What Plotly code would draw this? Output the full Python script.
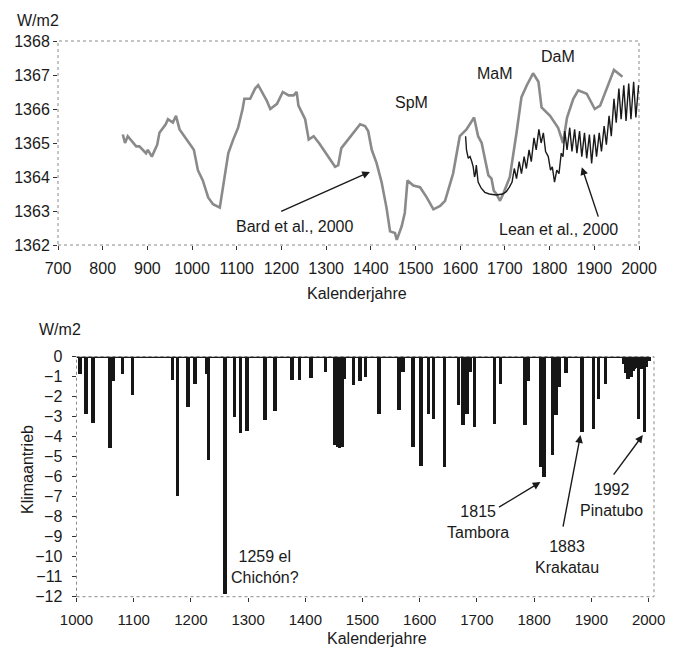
import plotly.graph_objects as go

# page body has an 8px margin, so the figure is offset by 8px in the photographed page
OFF = 8
W, H = 669, 640
FONT = "Liberation Sans, Arial, sans-serif"

# ---------------- Top chart data: solar irradiance (W/m2) ----------------
bard_years = [845, 850, 856, 866, 875, 882, 892, 897, 901, 910, 922, 927, 941, 946, 957, 964,
              972, 987, 1004, 1013, 1024, 1036, 1047, 1062, 1071, 1081, 1092, 1103, 1113, 1117,
              1130, 1141, 1148, 1160, 1167, 1175, 1190, 1203, 1216, 1227, 1234, 1238, 1253, 1261,
              1272, 1284, 1302, 1320, 1327, 1334, 1349, 1376, 1387, 1394, 1402, 1413, 1424, 1435,
              1443, 1454, 1458, 1469, 1476, 1482, 1495, 1510, 1525, 1540, 1555, 1566, 1584, 1599,
              1614, 1631, 1640, 1648, 1655, 1663, 1670, 1675, 1681, 1689, 1696, 1711, 1726, 1737,
              1749, 1763, 1775, 1782, 1801, 1819, 1830, 1839, 1853, 1864, 1883, 1901, 1913, 1927,
              1944, 1963]
bard_values = [1365.25, 1365.0, 1365.2, 1365.05, 1364.9, 1364.9, 1364.75, 1364.7, 1364.8, 1364.6,
               1364.95, 1365.3, 1365.55, 1365.7, 1365.6, 1365.8, 1365.4, 1365.1, 1364.8, 1364.2,
               1363.9, 1363.4, 1363.2, 1363.1, 1363.9, 1364.7, 1365.1, 1365.45, 1366.0, 1366.3,
               1366.3, 1366.6, 1366.7, 1366.4, 1366.25, 1366.0, 1366.15, 1366.5, 1366.4, 1366.4,
               1366.5, 1366.1, 1365.7, 1365.1, 1365.2, 1365.0, 1364.65, 1364.3, 1364.35, 1364.85,
               1365.1, 1365.55, 1365.5, 1365.35, 1364.8, 1364.4, 1363.85, 1363.1, 1362.4, 1362.35,
               1362.15, 1362.55, 1362.95, 1363.9, 1363.75, 1363.7, 1363.4, 1363.05, 1363.15, 1363.3,
               1364.1, 1365.2, 1365.4, 1365.75, 1365.2, 1365.0, 1364.55, 1364.05, 1363.95, 1363.6,
               1363.5, 1363.3, 1363.5, 1364.0, 1365.3, 1366.35, 1366.7, 1367.05, 1366.8, 1366.05,
               1365.8, 1365.45, 1365.0, 1365.75, 1366.3, 1366.55, 1366.45, 1366.0, 1366.1, 1366.6,
               1367.15, 1366.95]

lean_years = [1612, 1614, 1618, 1622, 1626, 1629, 1632, 1634, 1636, 1638, 1640, 1647, 1655, 1665,
              1680, 1695, 1703, 1710, 1716,
              1721, 1726, 1732, 1737, 1743, 1748, 1754, 1759, 1765, 1770, 1776, 1781, 1786, 1791,
              1797, 1802, 1806, 1811, 1816, 1821, 1826, 1830, 1834, 1839, 1845, 1850, 1856, 1861,
              1867, 1872, 1878, 1883, 1889, 1894, 1900, 1905, 1911, 1916, 1922, 1927, 1933, 1938,
              1944, 1949, 1955, 1960, 1966, 1971, 1977, 1982, 1988, 1993, 1999, 2000]
lean_values = [1365.2, 1364.8, 1364.55, 1364.6, 1364.45, 1364.3, 1364.0, 1364.1, 1364.35, 1364.0,
               1363.85, 1363.67, 1363.55, 1363.5, 1363.47, 1363.5, 1363.57, 1363.7, 1363.85,
               1364.25, 1363.95, 1364.45, 1364.1, 1364.6, 1364.25, 1364.8, 1364.45, 1365.15, 1364.8,
               1365.4, 1365.0, 1365.3, 1364.75, 1364.6, 1364.2, 1364.3, 1363.85, 1364.2, 1364.1,
               1364.7, 1364.6, 1365.35, 1364.8, 1365.45, 1364.75, 1365.4, 1364.7, 1365.35, 1364.6,
               1365.3, 1364.55, 1365.25, 1364.4, 1365.25, 1364.6, 1365.3, 1364.75, 1365.5, 1364.95,
               1365.8, 1365.2, 1366.3, 1365.6, 1366.6, 1365.7, 1366.7, 1365.65, 1366.75, 1365.7,
               1366.8, 1365.75, 1366.7, 1366.5]

top_xticks = list(range(700, 2001, 100))
top_yticks = list(range(1362, 1369))

# ---------------- Bottom chart data: volcanic forcing (W/m2) ----------------
volc_years = [1005, 1016, 1028, 1058, 1063, 1080, 1097, 1167, 1176, 1194, 1206, 1227, 1230, 1259,
              1275, 1286, 1297, 1329, 1346, 1376, 1389, 1409, 1434, 1451, 1455, 1459, 1463, 1467,
              1483, 1495, 1504, 1528, 1563, 1570, 1587, 1601, 1614, 1623, 1642, 1667, 1675, 1682,
              1688, 1695, 1730, 1740, 1783, 1789, 1810, 1816, 1831, 1837, 1843, 1855, 1883, 1903,
              1912, 1924, 1955, 1959, 1963, 1966, 1969, 1972, 1975, 1978, 1982, 1986, 1988, 1992,
              1996, 2000]
volc_values = [-0.85, -2.85, -3.3, -4.55, -1.2, -0.85, -1.9, -1.15, -6.95, -2.5, -1.35, -0.85, -5.15,
               -11.85, -3.0, -3.8, -3.7, -3.15, -2.7, -1.15, -1.15, -1.05, -0.75, -4.4, -4.5, -4.55,
               -4.5, -1.1, -1.4, -1.2, -1.0, -2.83, -2.67, -0.75, -4.5, -5.45, -2.83, -3.1, -5.5,
               -2.4, -3.4, -2.83, -0.75, -3.5, -3.35, -1.33, -3.38, -1.2, -5.5, -6.0, -4.9, -2.9,
               -1.5, -0.8, -3.75, -3.6, -2.1, -1.33, -0.35, -0.8, -1.1, -0.9, -1.0, -0.7, -0.6,
               -0.55, -3.1, -0.6, -0.5, -3.75, -0.5, -0.2]

bot_xticks = list(range(1000, 2001, 100))
bot_yticks = list(range(-12, 1))


def px_x(p):
    return (p - OFF) / W


def px_y(p):
    return 1 - (p - OFF) / H


fig = go.Figure()
fig.add_trace(go.Scatter(x=bard_years, y=bard_values, mode="lines",
                         line=dict(color="#8a8a8a", width=2.6), xaxis="x", yaxis="y",
                         showlegend=False))
fig.add_trace(go.Scatter(x=lean_years, y=lean_values, mode="lines",
                         line=dict(color="#1a1a1a", width=1.4), xaxis="x", yaxis="y",
                         showlegend=False))
fig.add_trace(go.Bar(x=volc_years, y=volc_values, width=6, marker_color="#161616",
                     marker_line_width=0, xaxis="x2", yaxis="y2", showlegend=False))

axis_common = dict(showgrid=False, showline=False, zeroline=False, ticks="outside",
                   tickcolor="#333", tickwidth=1, automargin=False)
tf16 = dict(family=FONT, size=16, color="#1a1a1a")
tf15 = dict(family=FONT, size=15, color="#1a1a1a")

fig.update_layout(
    width=W, height=H, margin=dict(l=0, r=0, t=0, b=0, autoexpand=False),
    paper_bgcolor="white", plot_bgcolor="white",
    bargap=0,
    xaxis=dict(domain=[px_x(58), px_x(639)], range=[700, 2000], tickvals=top_xticks,
               anchor="y", ticklen=4, ticklabelstandoff=5, tickfont=tf16, **axis_common),
    yaxis=dict(domain=[px_y(245), px_y(41)], range=[1362, 1368], tickvals=top_yticks,
               anchor="x", ticklen=4, ticklabelstandoff=0, tickfont=tf16, **axis_common),
    xaxis2=dict(domain=[px_x(76.5), px_x(654)], range=[1000, 2009.5], tickvals=bot_xticks,
                anchor="y2", ticklen=4, ticklabelstandoff=5, tickfont=tf15, **axis_common),
    yaxis2=dict(domain=[px_y(596.7), px_y(356.7)], range=[-12, 0], tickvals=bot_yticks,
                anchor="x2", ticklen=4, ticklabelstandoff=6, tickfont=tf16, **axis_common),
)

# plot frames (thin gray dotted borders)
for xr, yr in (("x domain", "y domain"), ("x2 domain", "y2 domain")):
    fig.add_shape(type="rect", xref=xr, yref=yr, x0=0, x1=1, y0=0, y1=1,
                  line=dict(color="#8a8a8a", width=1, dash="dot"), layer="below")
# zero baseline of the forcing chart
fig.add_shape(type="line", xref="x2", yref="y2", x0=1000, x1=2000, y0=0, y1=0,
              line=dict(color="#1a1a1a", width=2.5))

txt = dict(family=FONT, size=16, color="#1a1a1a")
ctr = dict(xanchor="center", yanchor="middle", showarrow=False, font=txt)
ann = []
# axis unit labels / titles (paper positions)
ann.append(dict(text="W/m2", x=px_x(38), y=px_y(20), xref="paper", yref="paper", **ctr))
ann.append(dict(text="Kalenderjahre", x=px_x(357), y=px_y(293), xref="paper", yref="paper", **ctr))
ann.append(dict(text="W/m2", x=px_x(60), y=px_y(329), xref="paper", yref="paper", **ctr))
ann.append(dict(text="Kalenderjahre", x=px_x(377), y=px_y(638), xref="paper", yref="paper", **ctr))
ann.append(dict(text="Klimaantrieb", x=px_x(27), y=px_y(470), xref="paper", yref="paper",
                textangle=-90, **ctr))

# top chart labels
ann.append(dict(text="SpM", x=1492, y=1366.18, xref="x", yref="y", **ctr))
ann.append(dict(text="MaM", x=1678, y=1367.03, xref="x", yref="y", **ctr))
ann.append(dict(text="DaM", x=1819, y=1367.53, xref="x", yref="y", **ctr))
ann.append(dict(text="Bard et al., 2000", x=1230, y=1362.53, xref="x", yref="y", **ctr))
ann.append(dict(text="Lean et al., 2000", x=1819, y=1362.47, xref="x", yref="y", **ctr))
arrow = dict(text="", showarrow=True, arrowhead=2, arrowsize=1.1, arrowwidth=1.4,
             arrowcolor="#1a1a1a", standoff=0, startstandoff=0)
ann.append(dict(x=1398, y=1364.15, ax=1196, ay=1362.97, xref="x", yref="y",
                axref="x", ayref="y", **arrow))
ann.append(dict(x=1872, y=1364.29, ax=1910, ay=1362.79, xref="x", yref="y",
                axref="x", ayref="y", **arrow))

# bottom chart labels
ann.append(dict(text="1259 el<br>Chichón?", x=1330, y=-10.5, xref="x2", yref="y2", **ctr))
ann.append(dict(text="1815<br>Tambora", x=1701, y=-8.27, xref="x2", yref="y2", **ctr))
ann.append(dict(text="1883<br>Krakatau", x=1858, y=-10.02, xref="x2", yref="y2", **ctr))
ann.append(dict(text="1992<br>Pinatubo", x=1935, y=-7.17, xref="x2", yref="y2", **ctr))
ann.append(dict(x=1811, y=-6.27, ax=1736, ay=-7.57, xref="x2", yref="y2",
                axref="x2", ayref="y2", **arrow))
ann.append(dict(x=1881, y=-3.92, ax=1850, ay=-8.57, xref="x2", yref="y2",
                axref="x2", ayref="y2", **arrow))
ann.append(dict(x=1990, y=-3.92, ax=1937, ay=-5.97, xref="x2", yref="y2",
                axref="x2", ayref="y2", **arrow))

fig.update_layout(annotations=ann)
fig.write_html("out.html")
